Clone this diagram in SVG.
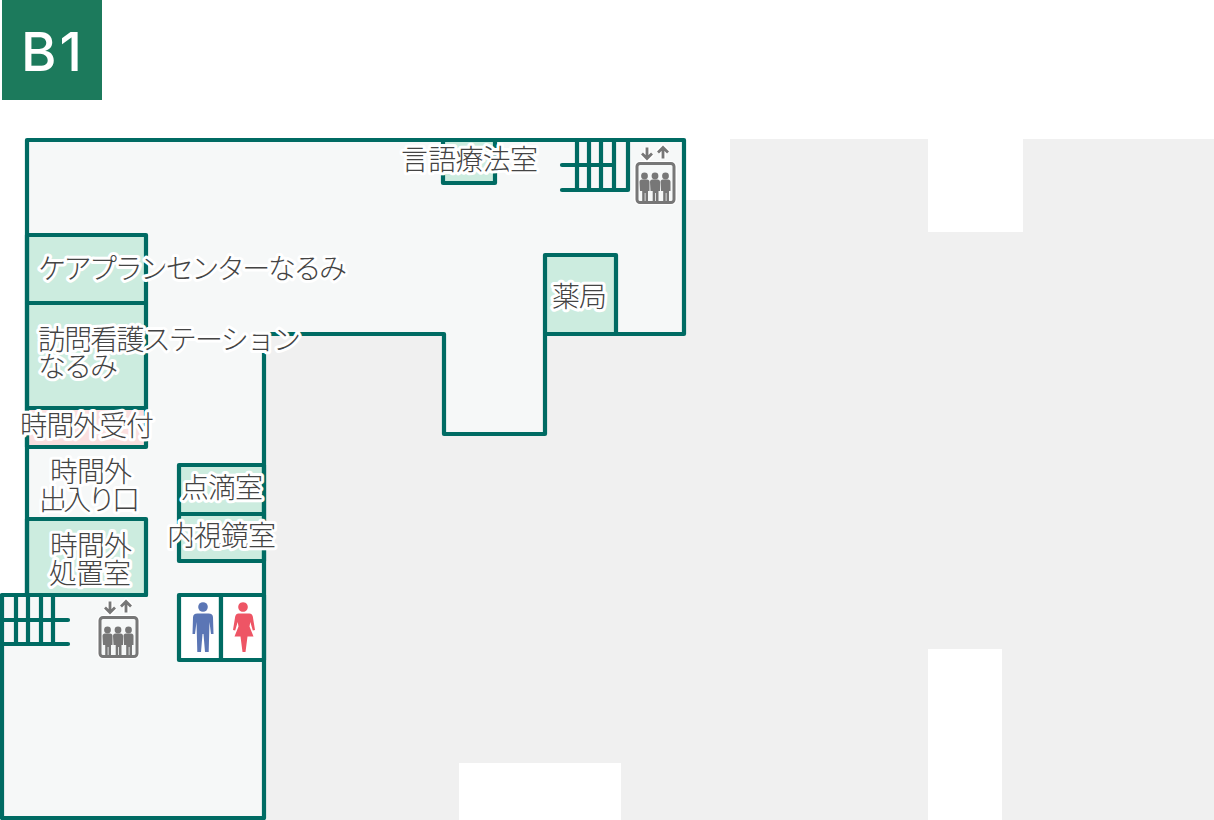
<svg xmlns="http://www.w3.org/2000/svg" xmlns:xlink="http://www.w3.org/1999/xlink" width="1214" height="820" viewBox="0 0 1214 820">
<style>
.w{fill:none;stroke:#006b63;stroke-width:4.200;stroke-linejoin:round;stroke-linecap:round}
.mint{fill:#ccecdf;stroke:#006b63;stroke-width:4.200;stroke-linejoin:round}
.pink{fill:#fadfdf;stroke:#006b63;stroke-width:4.200;stroke-linejoin:round}
.wc{fill:#fff;stroke:#006b63;stroke-width:4.200;stroke-linejoin:round}
.t{font-family:"Noto Sans CJK JP","Noto Sans",sans-serif;font-size:28px;font-weight:300;fill:#444;stroke:#fff;stroke-width:6px;paint-order:stroke;stroke-linejoin:round}
.g{fill:#777}
</style>
<defs>
<g id="ev">
<rect x="634" y="161" width="43" height="44" rx="6" fill="#fff"/>
<path d="M647 147.500v11M642 153.500l5 5l5-5M663 158.500v-11M658 152.500l5-5l5 5" fill="none" stroke="#fff" stroke-width="6"/>
<rect x="637" y="163.500" width="37" height="39" rx="3" fill="#f6f8f8" stroke="#777" stroke-width="3"/>
<path d="M647 147.500v11M642 153.500l5 5l5-5M663 158.500v-11M658 152.500l5-5l5 5" fill="none" stroke="#777" stroke-width="2.800"/>
<g id="pp" class="g"><circle cx="644.500" cy="176" r="3.400"/><path d="M639.500 182q0-2.500 2.500-2.500h5q2.500 0 2.500 2.500v9h-1.500v12h-2.500v-10h-.8v10h-2.500v-12h-2.200z"/></g>
<use xlink:href="#pp" href="#pp" x="10.500"/><use xlink:href="#pp" href="#pp" x="21"/>
</g>
</defs>
<g id="ground">
<path fill="#f0f0f0" d="M685 200H730V139H928V232H1023V139H1214V820H1002V649H928V820H621V763H459V820H265V335H685z"/>
<path fill="#f6f8f8" d="M27 140H684V334H545V434H444V334H264V818H2V595H27z"/>
</g>
<g id="badge"><rect x="2" y="0" width="100" height="100" fill="#1c7a5c"/><text x="21" y="71" font-family="Inter,'Noto Sans',sans-serif" font-size="54" font-weight="500" letter-spacing="3" fill="#fff">B1</text></g>
<g id="rooms">
<rect id="r-st" class="mint" x="443" y="140" width="52" height="43"/>
<rect id="r-ph" class="mint" x="545" y="255" width="71" height="79"/>
<rect id="r-cp" class="mint" x="27" y="235" width="119" height="68"/>
<rect id="r-vn" class="mint" x="27" y="303" width="119" height="105"/>
<rect id="r-rc" class="pink" x="27" y="408" width="119" height="39"/>
<rect id="r-tr" class="mint" x="27" y="519" width="119" height="76"/>
<rect id="r-dr" class="mint" x="179" y="465" width="85" height="49"/>
<rect id="r-en" class="mint" x="179" y="514" width="85" height="47"/>
<rect id="r-wm" class="wc" x="179" y="595" width="42" height="65"/>
<rect id="r-ww" class="wc" x="221" y="595" width="43" height="65"/>
</g>
<g id="walls">
<path class="w" d="M27 595V140H684V334H545V434H444V334H264V818H2V595H146"/>
<path class="w" d="M577 140V190M589 140V190M601 140V190M614 140V190M628 140V190M562 165H614M562 190H628"/>
<path class="w" d="M16 595V644M28 595V644M41 595V644M53 595V644M3 620H68M3 644H68"/>
</g>
<g id="icons">
<use xlink:href="#ev" href="#ev"/>
<use xlink:href="#ev" href="#ev" x="-537" y="454"/>
<g id="man" fill="#5b76b5"><circle cx="203" cy="607" r="4.800"/><path d="M197.500 613.500q-4.500 0-4.500 4l-.5 16.500h2.500l1.500-12l.8 30h3.700l1.500-18h1l1.500 18h3.700l.8-30l1.500 12h2.500l-.5-16.500q0-4-4.500-4z"/></g>
<g id="woman" fill="#ee5565"><path d="M243 602.200a4.800 4.800 0 1 0 .01 0z"/><path d="M238.500 613.500q-2.500 0-3.300 3l-2.200 13.500l2.200.5l2.500-8.500l.8 4.500l-4 10h6l2 15.500h3l2-15.500h6l-4-10l.8-4.500l2.500 8.500l2.200-.5l-2.200-13.500q-.8-3-3.300-3z"/></g>
</g>
<g id="labels">
<text class="t" x="401" y="169.500" textLength="137">言語療法室</text>
<text class="t" x="552" y="306.500" textLength="55">薬局</text>
<text class="t" x="38" y="279" textLength="309">ケアプランセンターなるみ</text>
<text class="t" x="38" y="349.500" textLength="263">訪問看護ステーション</text>
<text class="t" x="38" y="377" textLength="80">なるみ</text>
<text class="t" x="20" y="435.500" textLength="134">時間外受付</text>
<text class="t" x="50" y="481.500" textLength="82">時間外</text>
<text class="t" x="39" y="509.500" textLength="101">出入り口</text>
<text class="t" x="50" y="555.500" textLength="82">時間外</text>
<text class="t" x="49" y="583.500" textLength="82">処置室</text>
<text class="t" x="181" y="497.500" textLength="82">点滴室</text>
<text class="t" x="167" y="545.500" textLength="109">内視鏡室</text>
</g>
</svg>
